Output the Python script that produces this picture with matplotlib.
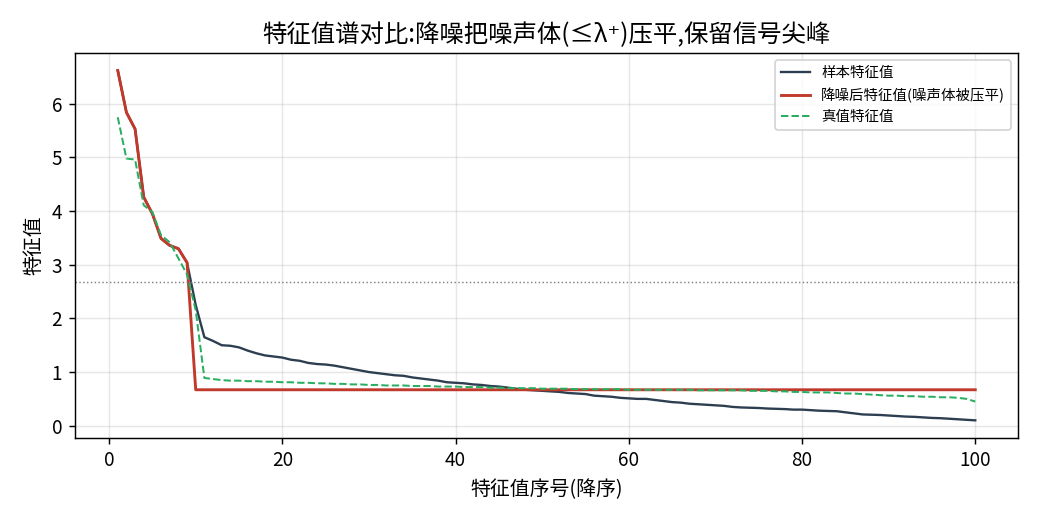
import matplotlib
matplotlib.use("Agg")
import matplotlib.pyplot as plt

plt.rcParams['font.family'] = ['Noto Sans CJK JP', 'DejaVu Sans']
plt.rcParams['axes.unicode_minus'] = False

sample = [6.62, 5.84, 5.53, 4.26, 3.95, 3.49, 3.36, 3.30, 3.04, 2.25,
          1.65, 1.58, 1.50, 1.49, 1.46, 1.40, 1.35, 1.31, 1.29, 1.27,
          1.23, 1.21, 1.17, 1.15, 1.14, 1.12, 1.09, 1.06, 1.03, 1.00,
          0.98, 0.96, 0.94, 0.93, 0.90, 0.88, 0.86, 0.84, 0.81, 0.80,
          0.79, 0.77, 0.76, 0.74, 0.73, 0.71, 0.69, 0.67, 0.66, 0.65,
          0.64, 0.63, 0.61, 0.60, 0.59, 0.56, 0.55, 0.54, 0.52, 0.51,
          0.50, 0.50, 0.48, 0.46, 0.44, 0.43, 0.41, 0.40, 0.39, 0.38,
          0.37, 0.35, 0.34, 0.335, 0.33, 0.32, 0.315, 0.31, 0.30, 0.30,
          0.29, 0.28, 0.275, 0.27, 0.25, 0.23, 0.21, 0.205, 0.20, 0.19,
          0.18, 0.17, 0.165, 0.155, 0.145, 0.14, 0.13, 0.12, 0.11, 0.10]

noise_level = 0.67
n_signal = 9
denoised = sample[:n_signal] + [noise_level] * (len(sample) - n_signal)

true_vals = [5.75, 4.98, 4.96, 4.11, 3.98, 3.55, 3.42, 3.12, 2.82, 2.15,
             0.89, 0.87, 0.85, 0.84, 0.84, 0.83, 0.83, 0.82, 0.82, 0.81,
             0.81, 0.80, 0.80, 0.79, 0.79, 0.78, 0.78, 0.77, 0.77, 0.76,
             0.76, 0.75, 0.75, 0.75, 0.74, 0.74, 0.74, 0.73, 0.73, 0.73,
             0.72, 0.72, 0.72, 0.71, 0.71, 0.70, 0.70, 0.70, 0.70, 0.69,
             0.69, 0.69, 0.69, 0.68, 0.68, 0.68, 0.68, 0.68, 0.68, 0.67,
             0.67, 0.67, 0.67, 0.67, 0.67, 0.67, 0.67, 0.66, 0.66, 0.66,
             0.66, 0.66, 0.66, 0.65, 0.65, 0.65, 0.64, 0.64, 0.63, 0.63,
             0.62, 0.62, 0.62, 0.61, 0.60, 0.60, 0.59, 0.58, 0.57, 0.56,
             0.56, 0.55, 0.55, 0.54, 0.54, 0.53, 0.53, 0.52, 0.50, 0.45]

lambda_plus = 2.68
idx = list(range(1, len(sample) + 1))

fig, ax = plt.subplots(figsize=(8, 4), dpi=130)
fig.subplots_adjust(left=0.072, right=0.979, top=0.898, bottom=0.158)

ax.plot(idx, sample, color='#2c3e50', lw=1.3, label='样本特征值')
ax.plot(idx, denoised, color='#c0392b', lw=1.6, label='降噪后特征值(噪声体被压平)')
ax.plot(idx, true_vals, color='#27ae60', lw=1.1, ls='--', label='真值特征值')
ax.axhline(lambda_plus, color='gray', lw=0.8, ls=':')

ax.grid(True, alpha=0.3)
ax.set_title('特征值谱对比:降噪把噪声体(≤λ⁺)压平,保留信号尖峰', fontsize=13.5)
ax.set_xlabel('特征值序号(降序)', fontsize=11)
ax.set_ylabel('特征值', fontsize=11)
ax.tick_params(labelsize=10.5)
ax.legend(loc='upper right', fontsize=8)

fig.savefig('out.png', dpi=130)
